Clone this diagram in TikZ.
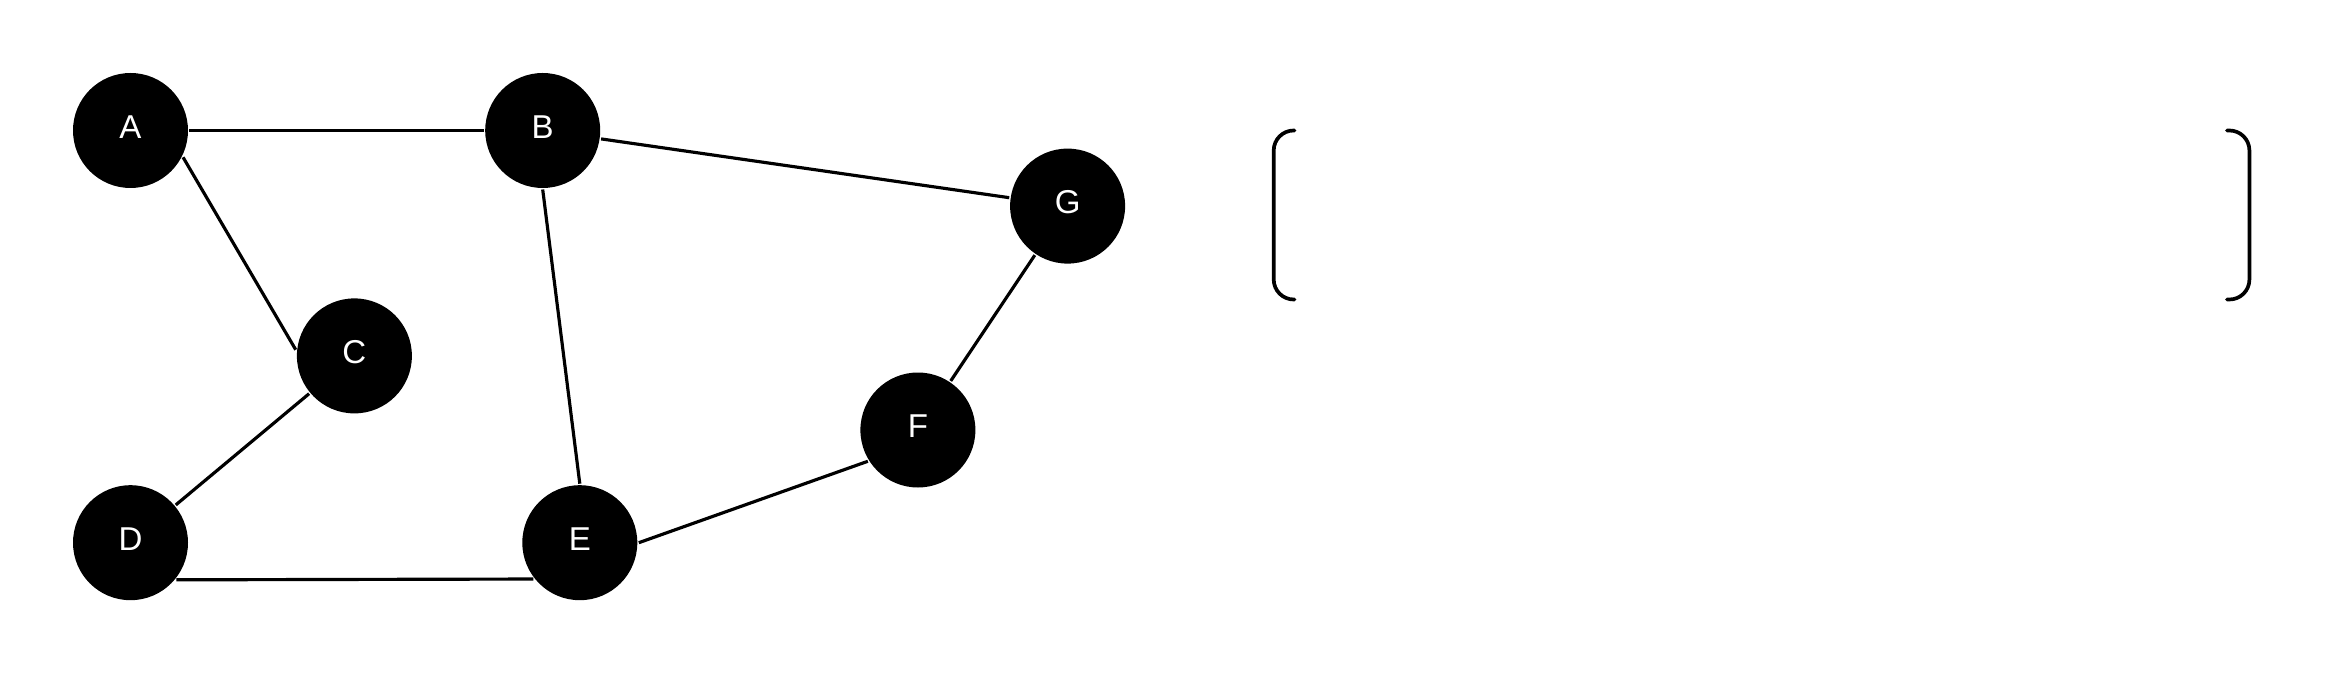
\documentclass[tikz,border=0pt]{standalone}
\usepackage{fontspec}
\setsansfont{Liberation Sans}
\usetikzlibrary{positioning}
\tikzset{
  every picture/.style={font=\sffamily, line width=0.85pt},
  vertex/.style={circle, fill=black, draw=none, text=white, minimum size=1.15cm, inner sep=0pt,
    text height=0.232cm, text depth=0.08cm, font=\sffamily\fontsize{9.4}{11}\selectfont},
  edge/.style={draw=black, line width=0.9pt},
  bracket/.style={draw=black, line width=1.05pt, rounded corners=0.2cm, line cap=round},
}

\begin{document}
\begin{tikzpicture}
  \useasboundingbox (0,0) rectangle (23.25,6.75);
  % left: the graph
  \node[vertex] (A) at (1.305,5.445) {A};
  \node[vertex] (B) at (5.427,5.445) {B};
  \node[vertex] (C) at (3.544,3.191) {C};
  \node[vertex] (D) at (1.305,1.323) {D};
  \node[vertex] (E) at (5.798,1.323) {E};
  \node[vertex] (F) at (9.179,2.450) {F};
  \node[vertex] (G) at (10.676,4.689) {G};
  \draw[edge] (A.east) -- (B.west);
  \draw[edge] (A.-27) -- (C.174);
  \draw[edge] (C) -- (D);
  \draw[edge] (D.-39) -- (E.-142);
  \draw[edge] (B.-90) -- (E.90);
  \draw[edge] (B) -- (G);
  \draw[edge] (G) -- (F);
  \draw[edge] (E.east) -- (F.212);
  % right: an empty bracket pair
  \coordinate (lt) at (12.945,5.445);
  \coordinate (lb) at (12.945,3.755);
  \coordinate (rt) at (22.27,5.445);
  \coordinate (rb) at (22.27,3.755);
  \draw[bracket] (lt) -- (12.737,5.445) -- (12.737,3.755) -- (lb);
  \draw[bracket] (rt) -- (22.494,5.445) -- (22.494,3.755) -- (rb);
\end{tikzpicture}
\end{document}
